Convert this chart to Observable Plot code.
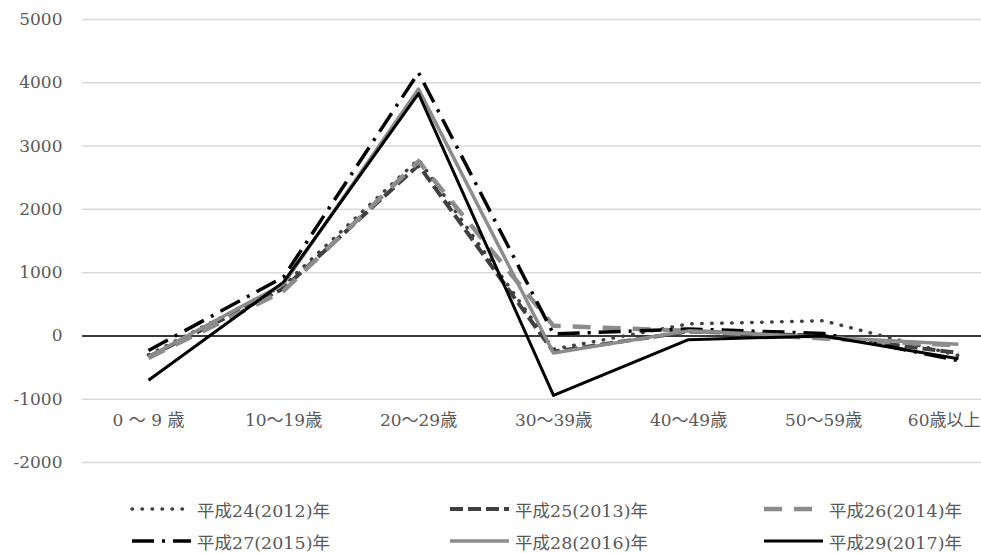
<!DOCTYPE html>
<html><head><meta charset="utf-8">
<script src="https://cdn.jsdelivr.net/npm/d3@7"></script>
<script src="https://cdn.jsdelivr.net/npm/@observablehq/plot@0.6"></script>
<style>
body{margin:0;overflow:hidden;background:#fff;font-family:"DejaVu Serif","Noto Sans CJK JP",serif;}
#legend{position:relative;height:73px;width:981px;}
.item{position:absolute;display:flex;align-items:center;font-size:17.5px;color:#595959;height:20px;white-space:nowrap;}
.item svg{margin-right:5px;}
</style></head><body><div id="chart"></div><div id="legend"></div>
<script>
const categories = ["0 〜 9 歳", "10〜19歳", "20〜29歳", "30〜39歳", "40〜49歳", "50〜59歳", "60歳以上"];
const years = ["平成24(2012)年", "平成25(2013)年", "平成26(2014)年", "平成27(2015)年", "平成28(2016)年", "平成29(2017)年"];
const v2012 = [-300, 800, 2790, -210, 190, 240, -310];
const v2013 = [-330, 750, 2700, -250, 70, 0, -270];
const v2014 = [-350, 710, 2760, 160, 80, -40, -150];
const v2015 = [-230, 930, 4160, 30, 110, 40, -390];
const v2016 = [-330, 820, 3900, -270, 80, -20, -130];
const v2017 = [-700, 850, 3830, -940, -60, 0, -360];
const yTicks = [-2000, -1000, 0, 1000, 2000, 3000, 4000, 5000];

const seriesValues = [v2012, v2013, v2014, v2015, v2016, v2017];
const styles = [
  {stroke: "#404040", strokeWidth: 3.5, strokeDasharray: "0.5 9.5", strokeLinecap: "round"},
  {stroke: "#404040", strokeWidth: 4, strokeDasharray: "13 5", strokeLinecap: "butt"},
  {stroke: "#8c8c8c", strokeWidth: 4.5, strokeDasharray: "18 12", strokeLinecap: "butt"},
  {stroke: "#000000", strokeWidth: 3.5, strokeDasharray: "22 8 3 8", strokeLinecap: "butt"},
  {stroke: "#8c8c8c", strokeWidth: 3.5, strokeDasharray: null, strokeLinecap: "butt"},
  {stroke: "#000000", strokeWidth: 3, strokeDasharray: null, strokeLinecap: "butt"}
];

const lineMarks = seriesValues.map((vals, i) => {
  const data = categories.map((c, j) => ({cat: c, value: vals[j]}));
  const s = styles[i];
  const opts = {x: "cat", y: "value", stroke: s.stroke, strokeWidth: s.strokeWidth, strokeLinecap: s.strokeLinecap, strokeLinejoin: "round"};
  if (s.strokeDasharray) opts.strokeDasharray = s.strokeDasharray;
  return Plot.line(data, opts);
});

const lastCat = categories[categories.length - 1];

const chart = Plot.plot({
  width: 981,
  height: 480,
  marginLeft: 82,
  marginRight: 0,
  marginTop: 19,
  marginBottom: 18,
  style: {fontFamily: '"DejaVu Serif","Noto Sans CJK JP",serif', fontSize: "17px", color: "#595959", background: "#fff"},
  x: {type: "point", domain: categories, range: [148, 958], padding: 0, label: null, axis: null},
  y: {domain: [-2000, 5000], label: null},
  marks: [
    Plot.ruleY(yTicks, {stroke: "#d9d9d9", strokeWidth: 1.5}),
    Plot.ruleY([0], {stroke: "#000", strokeWidth: 1.5}),
    Plot.axisY({ticks: yTicks, tickSize: 0, tickPadding: 20, tickFormat: d => String(d), fontSize: 17, label: null}),
    Plot.text(categories.slice(0, -1), {x: d => d, frameAnchor: "bottom", dy: -37, fontSize: 17, fill: "#595959"}),
    Plot.text([lastCat], {x: d => d, frameAnchor: "bottom", dy: -37, dx: 22, textAnchor: "end", fontSize: 17, fill: "#595959"}),
    ...lineMarks
  ]
});
document.getElementById("chart").appendChild(chart);

const legend = document.getElementById("legend");
const cols = [130, 448, 762];
const rows = [19, 51];
years.forEach((name, i) => {
  const s = styles[i];
  const item = document.createElement("div");
  item.className = "item";
  item.style.left = cols[i % 3] + "px";
  item.style.top = rows[Math.floor(i / 3)] + "px";
  const ns = "http://www.w3.org/2000/svg";
  const svg = document.createElementNS(ns, "svg");
  svg.setAttribute("width", 62);
  svg.setAttribute("height", 10);
  const ln = document.createElementNS(ns, "line");
  ln.setAttribute("x1", 2); ln.setAttribute("x2", 61);
  ln.setAttribute("y1", 5); ln.setAttribute("y2", 5);
  ln.setAttribute("stroke", s.stroke);
  ln.setAttribute("stroke-width", s.strokeWidth);
  ln.setAttribute("stroke-linecap", s.strokeLinecap);
  if (s.strokeDasharray) ln.setAttribute("stroke-dasharray", s.strokeDasharray);
  svg.appendChild(ln);
  const span = document.createElement("span");
  span.textContent = name;
  item.appendChild(svg);
  item.appendChild(span);
  legend.appendChild(item);
});
</script>
</body></html>
